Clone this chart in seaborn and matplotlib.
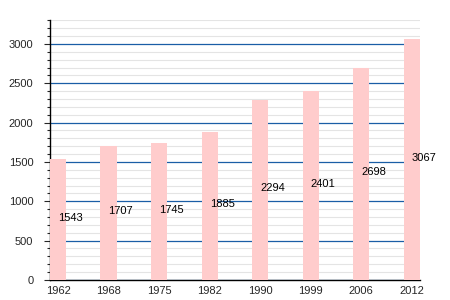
import matplotlib
matplotlib.use("Agg")
import matplotlib.pyplot as plt
from matplotlib.ticker import MultipleLocator
import seaborn as sns
import pandas as pd

# valeurs
annees = ["1962", "1968", "1975", "1982", "1990", "1999", "2006", "2012"]
population = [1543, 1707, 1745, 1885, 2294, 2401, 2698, 3067]

df = pd.DataFrame({"annee": annees, "population": population})

sns.set_style("white")
plt.rcParams['font.family'] = ['Liberation Sans', 'DejaVu Sans']

fig = plt.figure(figsize=(4.5, 3), dpi=100)
ax = fig.add_axes([0.111, 0.067, 0.822, 0.865])

sns.barplot(data=df, x="annee", y="population", color="#ffcccc",
            saturation=1, width=0.32, ax=ax, zorder=3, linewidth=0,
            edgecolor="none")

# étiquettes de valeur au milieu des barres
for i, v in enumerate(population):
    ax.text(i, v / 2 + 20, str(v), ha="left", va="center", fontsize=8,
            color="black", zorder=4)

ax.set_xlim(-0.16, len(annees) - 1 + 0.16)
ax.set_ylim(0, 3300)
ax.yaxis.set_major_locator(MultipleLocator(500))
ax.yaxis.set_minor_locator(MultipleLocator(100))

ax.set_axisbelow(True)
ax.grid(axis="y", which="major", color="#1a5ea6", linewidth=0.9, zorder=1)
ax.grid(axis="y", which="minor", color="#e4e4e4", linewidth=0.8, zorder=0)

for side in ["top", "right"]:
    ax.spines[side].set_visible(False)
ax.spines["left"].set_color("black")
ax.spines["bottom"].set_color("black")
ax.spines["left"].set_linewidth(1.0)
ax.spines["bottom"].set_linewidth(1.0)

ax.tick_params(axis="y", which="major", left=True, length=4, width=0.8,
               labelsize=8, pad=8)
ax.tick_params(axis="y", which="minor", left=True, length=2.5, width=0.8)
ax.tick_params(axis="x", bottom=False, labelsize=8, pad=1)

ax.set_xlabel("")
ax.set_ylabel("")

fig.savefig("out.png", dpi=100)
